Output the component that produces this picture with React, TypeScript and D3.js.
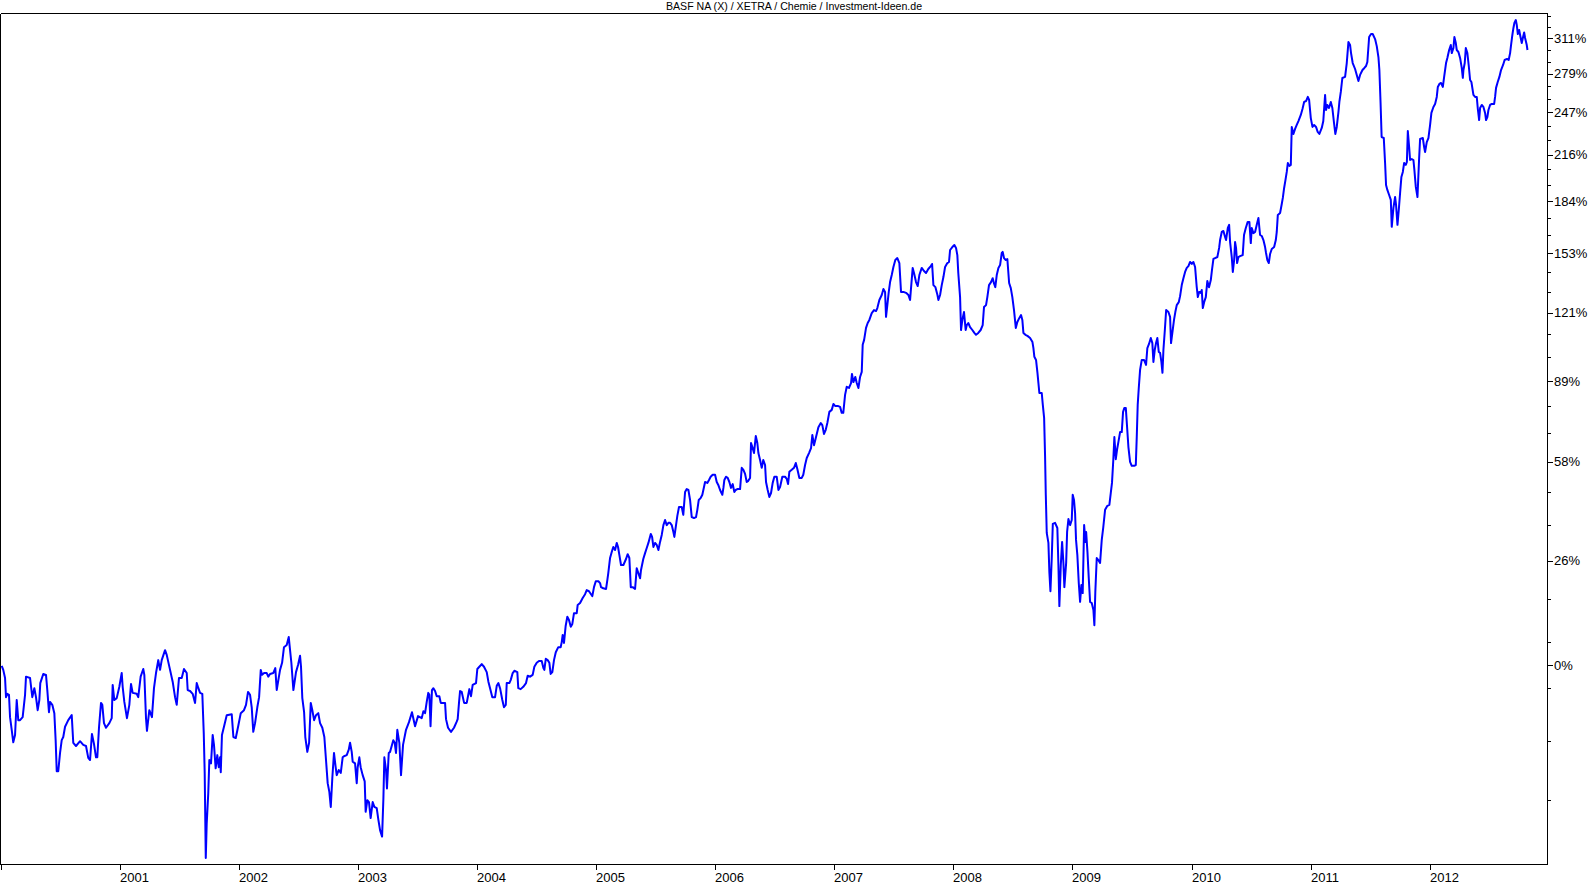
import React from 'react';
import * as d3 from 'd3';

const W = 1588;
const H = 885;
const title = 'BASF NA (X) / XETRA / Chemie / Investment-Ideen.de';

const yearTicks = [2000, 2001, 2002, 2003, 2004, 2005, 2006, 2007, 2008, 2009, 2010, 2011, 2012];
const yearLabels = ['', '2001', '2002', '2003', '2004', '2005', '2006', '2007', '2008', '2009', '2010', '2011', '2012'];

const majorTickPct = [0, 26.52, 58.15, 89.78, 121.41, 153.04, 184.67, 216.3, 247.93, 279.56, 311.19];
const majorTickLabels = ['0%', '26%', '58%', '89%', '121%', '153%', '184%', '216%', '247%', '279%', '311%'];
const minorTickPct = [-26.2, -15.7, -5.1, 5.4, 16.0, 37.1, 47.6, 68.7, 79.2, 100.3, 110.9, 131.95, 142.5, 163.6, 174.1, 195.2, 205.8, 226.8, 237.4, 258.5, 269.0, 290.1, 300.6, 321.7, 332.3];

// [decimal year, % change]
const d2000: [number, number][] = [
  [2000.006,-0.2],[2000.019,-1.1],[2000.034,-2.9],[2000.042,-7.0],[2000.053,-6.3],[2000.067,-6.5],[2000.076,-11.1],[2000.090,-13.6],[2000.103,-16.0],[2000.118,-14.6],[2000.132,-7.6],[2000.145,-11.7],[2000.160,-11.7],[2000.182,-11.1],[2000.202,-6.5],[2000.210,-2.6],[2000.244,-2.9],[2000.263,-7.0],[2000.280,-5.1],[2000.294,-7.0],[2000.308,-9.7],[2000.322,-7.6],[2000.330,-4.0],[2000.355,-2.0],[2000.378,-2.2],[2000.389,-5.5],[2000.403,-10.1],[2000.412,-8.0],[2000.431,-8.6],[2000.448,-10.3],[2000.459,-15.6],[2000.468,-21.3],[2000.481,-21.3],[2000.496,-18.0],[2000.510,-15.6],[2000.523,-15.0],[2000.538,-13.0],[2000.565,-11.7],[2000.594,-10.7],[2000.607,-16.1],[2000.630,-16.7],[2000.664,-15.8],[2000.691,-16.5],[2000.714,-16.7],[2000.733,-18.9],[2000.748,-19.3],[2000.764,-14.4],[2000.781,-16.3],[2000.798,-18.8],[2000.809,-18.8],[2000.823,-13.2],[2000.840,-8.2],[2000.851,-8.6],[2000.865,-12.3],[2000.882,-13.2],[2000.910,-12.3],[2000.930,-11.3],[2000.938,-4.4],[2000.952,-7.6],[2000.972,-7.2],[2000.994,-4.8]
];
const d2001: [number, number][] = [
  [2001.014,-1.8],[2001.022,-4.8],[2001.036,-8.0],[2001.058,-11.3],[2001.078,-8.6],[2001.092,-4.2],[2001.106,-6.1],[2001.140,-6.3],[2001.153,-7.0],[2001.173,-2.6],[2001.195,-0.9],[2001.204,-2.2],[2001.218,-11.3],[2001.226,-13.8],[2001.246,-9.7],[2001.268,-11.1],[2001.285,-5.1],[2001.302,-1.8],[2001.321,1.1],[2001.336,-1.1],[2001.350,1.1],[2001.378,3.4],[2001.392,2.3],[2001.420,-1.1],[2001.442,-3.7],[2001.462,-7.0],[2001.476,-8.6],[2001.495,-2.9],[2001.518,-2.9],[2001.537,-0.9],[2001.560,-1.8],[2001.568,-5.5],[2001.588,-5.7],[2001.610,-6.3],[2001.630,-8.2],[2001.644,-4.0],[2001.658,-5.1],[2001.672,-6.1],[2001.691,-6.3],[2001.703,-14.2],[2001.711,-21.6],[2001.720,-35.3],[2001.728,-30.0],[2001.741,-25.1],[2001.750,-19.3],[2001.764,-19.9],[2001.778,-14.6],[2001.789,-16.5],[2001.803,-20.8],[2001.817,-18.4],[2001.829,-20.6],[2001.840,-18.8],[2001.846,-21.5],[2001.856,-14.6],[2001.876,-12.7],[2001.896,-10.7],[2001.938,-10.5],[2001.952,-15.0],[2001.972,-15.2],[2001.994,-12.7]
];
const d2002: [number, number][] = [
  [2002.014,-10.3],[2002.041,-9.7],[2002.058,-8.6],[2002.075,-5.9],[2002.092,-6.5],[2002.106,-9.1],[2002.119,-14.0],[2002.134,-12.3],[2002.153,-9.1],[2002.168,-7.0],[2002.182,-1.1],[2002.193,-2.2],[2002.210,-1.8],[2002.232,-1.8],[2002.245,-2.6],[2002.260,-2.0],[2002.287,-1.8],[2002.304,-0.7],[2002.316,-5.5],[2002.330,-3.3],[2002.344,-1.1],[2002.361,0.5],[2002.377,4.1],[2002.400,4.6],[2002.417,6.5],[2002.428,3.4],[2002.439,0.5],[2002.456,-5.5],[2002.478,-1.6],[2002.495,0],[2002.512,2.1],[2002.520,-0.4],[2002.531,-7.2],[2002.546,-10.1],[2002.556,-15.0],[2002.573,-17.8],[2002.588,-16.1],[2002.602,-8.2],[2002.615,-9.7],[2002.630,-11.7],[2002.646,-10.7],[2002.665,-10.3],[2002.680,-12.3],[2002.699,-13.2],[2002.716,-15.0],[2002.730,-19.3],[2002.744,-23.4],[2002.758,-24.9],[2002.770,-27.4],[2002.783,-22.5],[2002.797,-18.0],[2002.811,-20.6],[2002.820,-22.0],[2002.837,-21.1],[2002.854,-21.6],[2002.870,-18.8],[2002.881,-18.6],[2002.904,-18.4],[2002.921,-17.4],[2002.932,-16.1],[2002.946,-17.8],[2002.954,-19.6],[2002.974,-19.9],[2002.988,-23.4],[2002.996,-20.6]
];
const d2003: [number, number][] = [
  [2003.010,-18.8],[2003.021,-20.6],[2003.038,-22.0],[2003.055,-23.1],[2003.063,-28.2],[2003.077,-26.3],[2003.091,-26.6],[2003.105,-29.2],[2003.122,-26.6],[2003.136,-27.4],[2003.156,-27.6],[2003.170,-29.5],[2003.184,-31.1],[2003.201,-32.1],[2003.212,-26.0],[2003.220,-18.8],[2003.234,-21.1],[2003.242,-24.3],[2003.257,-18.0],[2003.268,-17.8],[2003.284,-16.5],[2003.295,-15.6],[2003.307,-16.1],[2003.318,-18.0],[2003.329,-13.6],[2003.346,-16.1],[2003.360,-22.0],[2003.377,-16.5],[2003.402,-13.6],[2003.427,-12.1],[2003.452,-10.1],[2003.478,-12.9],[2003.503,-10.9],[2003.534,-11.3],[2003.548,-9.9],[2003.562,-10.3],[2003.576,-8.0],[2003.589,-6.1],[2003.598,-6.5],[2003.608,-12.9],[2003.620,-5.5],[2003.632,-5.1],[2003.646,-5.7],[2003.660,-6.8],[2003.682,-6.8],[2003.694,-8.2],[2003.716,-8.2],[2003.730,-8.2],[2003.738,-11.5],[2003.755,-13.2],[2003.780,-14.0],[2003.805,-13.2],[2003.826,-12.1],[2003.836,-11.5],[2003.847,-8.2],[2003.856,-5.7],[2003.870,-5.9],[2003.890,-8.2],[2003.912,-8.2],[2003.925,-6.5],[2003.934,-5.3],[2003.948,-6.8],[2003.962,-4.4],[2003.990,-4.0]
];
const d2004: [number, number][] = [
  [2004.001,-0.9],[2004.018,-0.4],[2004.038,0.2],[2004.057,-0.4],[2004.080,-1.6],[2004.094,-3.7],[2004.108,-5.1],[2004.127,-7.0],[2004.150,-7.0],[2004.164,-4.6],[2004.178,-4.0],[2004.192,-5.1],[2004.211,-7.6],[2004.225,-9.1],[2004.240,-8.6],[2004.248,-4.0],[2004.270,-4.0],[2004.282,-3.3],[2004.298,-1.8],[2004.312,-1.3],[2004.337,-1.6],[2004.345,-5.1],[2004.365,-5.3],[2004.387,-4.8],[2004.410,-4.0],[2004.424,-2.4],[2004.444,-2.6],[2004.466,-2.2],[2004.480,-0.4],[2004.500,0.5],[2004.519,0.9],[2004.542,0.9],[2004.556,-0.7],[2004.564,-1.1],[2004.576,1.4],[2004.592,1.1],[2004.606,0.5],[2004.617,-2.0],[2004.631,-1.6],[2004.645,1.1],[2004.660,2.9],[2004.681,4.1],[2004.701,4.1],[2004.710,5.3],[2004.718,7.0],[2004.729,5.1],[2004.743,9.2],[2004.757,11.5],[2004.771,10.7],[2004.786,9.0],[2004.799,9.7],[2004.813,12.4],[2004.836,12.4],[2004.844,14.5],[2004.864,15.0],[2004.886,16.3],[2004.906,17.3],[2004.920,18.4],[2004.939,18.1],[2004.956,17.3],[2004.967,16.8],[2004.981,19.2],[2004.996,20.8]
];
const d2005: [number, number][] = [
  [2005.018,20.8],[2005.032,20.3],[2005.040,19.2],[2005.059,18.9],[2005.082,18.7],[2005.093,21.1],[2005.101,23.0],[2005.116,27.3],[2005.130,29.0],[2005.143,30.5],[2005.158,29.6],[2005.172,31.7],[2005.183,30.5],[2005.194,28.2],[2005.208,25.3],[2005.228,25.3],[2005.250,27.0],[2005.264,28.4],[2005.278,27.3],[2005.290,19.2],[2005.306,19.2],[2005.326,18.7],[2005.340,24.4],[2005.354,23.0],[2005.368,21.6],[2005.376,23.9],[2005.395,27.0],[2005.410,28.7],[2005.424,30.2],[2005.438,31.7],[2005.458,34.4],[2005.469,33.5],[2005.480,30.5],[2005.494,31.7],[2005.508,31.1],[2005.522,29.6],[2005.536,32.0],[2005.550,34.1],[2005.564,37.1],[2005.578,38.7],[2005.592,37.1],[2005.606,37.8],[2005.620,37.8],[2005.634,37.1],[2005.648,35.0],[2005.656,33.5],[2005.670,37.1],[2005.681,40.0],[2005.695,42.8],[2005.718,42.8],[2005.731,40.3],[2005.746,47.7],[2005.760,48.7],[2005.774,48.4],[2005.788,45.1],[2005.802,39.6],[2005.821,39.3],[2005.838,39.6],[2005.849,41.9],[2005.861,45.1],[2005.878,45.8],[2005.891,46.8],[2005.905,49.4],[2005.914,51.1],[2005.933,50.8],[2005.947,51.8],[2005.961,52.9],[2005.978,53.6],[2005.998,53.6]
];
const d2006: [number, number][] = [
  [2006.012,51.1],[2006.025,50.1],[2006.040,48.4],[2006.059,46.8],[2006.068,49.1],[2006.076,51.8],[2006.090,52.9],[2006.104,52.5],[2006.118,51.1],[2006.132,49.1],[2006.146,50.4],[2006.160,47.7],[2006.171,48.4],[2006.185,48.7],[2006.208,48.7],[2006.222,56.0],[2006.236,55.3],[2006.250,53.9],[2006.264,51.1],[2006.277,51.5],[2006.292,52.5],[2006.300,65.0],[2006.311,63.5],[2006.325,61.3],[2006.340,67.6],[2006.353,65.0],[2006.362,61.3],[2006.376,58.8],[2006.390,56.0],[2006.403,58.8],[2006.418,57.0],[2006.426,51.1],[2006.440,48.4],[2006.454,46.1],[2006.468,47.4],[2006.482,50.8],[2006.496,52.9],[2006.516,52.9],[2006.530,48.4],[2006.544,49.4],[2006.563,52.9],[2006.586,52.9],[2006.600,52.2],[2006.611,50.4],[2006.622,54.6],[2006.642,55.3],[2006.661,56.0],[2006.676,57.7],[2006.689,55.6],[2006.706,52.5],[2006.726,52.5],[2006.739,53.6],[2006.754,57.0],[2006.768,59.5],[2006.787,61.3],[2006.804,63.1],[2006.815,68.0],[2006.829,64.2],[2006.846,67.2],[2006.866,71.0],[2006.886,72.6],[2006.899,71.8],[2006.913,68.4],[2006.927,69.9],[2006.941,72.6],[2006.958,77.0],[2006.978,77.8],[2006.992,80.2]
];
const d2007: [number, number][] = [
  [2007.006,79.4],[2007.028,79.4],[2007.048,79.0],[2007.062,76.6],[2007.075,76.6],[2007.090,83.9],[2007.104,87.3],[2007.123,86.8],[2007.140,88.9],[2007.148,92.8],[2007.160,89.3],[2007.176,91.5],[2007.188,88.9],[2007.202,86.8],[2007.216,91.5],[2007.230,93.7],[2007.238,105.9],[2007.250,108.2],[2007.266,113.9],[2007.280,116.3],[2007.294,117.8],[2007.314,121.2],[2007.333,122.7],[2007.350,122.2],[2007.361,123.7],[2007.378,127.8],[2007.398,130.4],[2007.412,133.5],[2007.426,132.0],[2007.434,119.3],[2007.445,125.2],[2007.457,132.0],[2007.468,137.2],[2007.482,141.0],[2007.496,145.4],[2007.512,149.3],[2007.529,150.4],[2007.546,147.6],[2007.560,132.0],[2007.580,132.0],[2007.602,131.5],[2007.622,130.4],[2007.636,127.8],[2007.644,134.0],[2007.658,144.9],[2007.669,142.1],[2007.686,137.2],[2007.700,135.1],[2007.714,141.0],[2007.734,144.9],[2007.753,143.2],[2007.770,142.1],[2007.789,144.3],[2007.810,145.9],[2007.821,147.1],[2007.832,135.6],[2007.849,134.5],[2007.866,130.4],[2007.874,127.8],[2007.888,130.4],[2007.902,135.6],[2007.916,139.9],[2007.930,145.4],[2007.949,147.6],[2007.963,148.2],[2007.972,155.0],[2007.991,156.7]
];
const d2008: [number, number][] = [
  [2008.008,157.9],[2008.022,156.2],[2008.033,152.1],[2008.041,142.1],[2008.056,129.3],[2008.064,112.9],[2008.075,117.8],[2008.089,121.7],[2008.103,112.9],[2008.112,115.3],[2008.125,116.3],[2008.140,114.3],[2008.159,112.9],[2008.176,111.5],[2008.190,110.6],[2008.209,111.5],[2008.229,112.9],[2008.246,115.3],[2008.257,124.2],[2008.274,125.2],[2008.285,129.3],[2008.299,135.6],[2008.316,137.2],[2008.330,139.3],[2008.341,136.5],[2008.352,134.5],[2008.364,141.0],[2008.378,144.9],[2008.392,146.5],[2008.406,153.3],[2008.414,153.9],[2008.425,150.4],[2008.440,149.3],[2008.453,149.9],[2008.468,136.7],[2008.482,134.0],[2008.495,129.3],[2008.509,122.7],[2008.524,113.9],[2008.537,116.8],[2008.554,118.8],[2008.568,120.2],[2008.579,117.8],[2008.588,111.5],[2008.605,110.6],[2008.622,110.1],[2008.644,109.1],[2008.664,107.2],[2008.672,104.4],[2008.680,100.4],[2008.694,99.0],[2008.706,93.3],[2008.714,88.9],[2008.722,84.7],[2008.742,84.7],[2008.751,79.8],[2008.762,74.6],[2008.770,60.0],[2008.776,46.8],[2008.784,34.7],[2008.798,31.7],[2008.806,23.3],[2008.815,18.1],[2008.826,27.3],[2008.835,37.5],[2008.854,37.8],[2008.873,36.2],[2008.882,25.3],[2008.890,14.2],[2008.902,25.3],[2008.913,32.0],[2008.924,25.9],[2008.932,19.2],[2008.947,25.9],[2008.955,35.0],[2008.966,39.0],[2008.980,37.1],[2008.994,38.7]
];
const d2009: [number, number][] = [
  [2009.002,46.8],[2009.013,45.1],[2009.022,40.9],[2009.030,32.6],[2009.041,28.2],[2009.053,20.3],[2009.064,15.3],[2009.075,19.8],[2009.086,17.6],[2009.098,37.1],[2009.109,32.0],[2009.115,35.0],[2009.126,29.0],[2009.137,21.6],[2009.148,15.3],[2009.162,15.0],[2009.176,13.2],[2009.184,9.4],[2009.192,17.9],[2009.204,27.3],[2009.217,26.7],[2009.232,25.9],[2009.246,32.6],[2009.259,36.5],[2009.274,41.9],[2009.293,43.2],[2009.310,43.5],[2009.322,47.4],[2009.332,50.8],[2009.343,58.8],[2009.352,67.2],[2009.364,59.1],[2009.374,62.4],[2009.386,65.4],[2009.400,69.1],[2009.414,69.1],[2009.425,77.0],[2009.436,78.6],[2009.448,78.6],[2009.456,73.0],[2009.470,63.5],[2009.484,58.1],[2009.498,56.7],[2009.518,56.7],[2009.532,57.0],[2009.540,67.2],[2009.548,79.8],[2009.557,86.8],[2009.568,94.6],[2009.582,99.0],[2009.601,99.0],[2009.618,96.8],[2009.629,104.4],[2009.643,106.3],[2009.658,109.1],[2009.671,106.7],[2009.680,98.1],[2009.691,103.5],[2009.702,106.7],[2009.713,109.1],[2009.725,102.6],[2009.736,102.2],[2009.747,98.1],[2009.756,93.3],[2009.764,103.5],[2009.776,112.9],[2009.787,122.7],[2009.806,121.7],[2009.820,119.3],[2009.828,106.7],[2009.839,111.5],[2009.853,117.8],[2009.864,121.7],[2009.876,125.2],[2009.893,126.7],[2009.904,129.8],[2009.918,135.6],[2009.932,139.3],[2009.946,142.7],[2009.960,144.9],[2009.974,145.9],[2009.988,148.2]
];
const d2010: [number, number][] = [
  [2010.002,147.1],[2010.016,148.2],[2010.030,145.4],[2010.043,135.1],[2010.053,129.3],[2010.064,132.0],[2010.078,131.5],[2010.086,133.0],[2010.095,123.7],[2010.106,126.7],[2010.120,129.3],[2010.133,137.8],[2010.147,134.5],[2010.162,138.3],[2010.172,143.8],[2010.184,149.9],[2010.198,150.4],[2010.217,151.0],[2010.232,156.2],[2010.240,160.8],[2010.254,165.6],[2010.268,166.2],[2010.282,162.6],[2010.290,160.8],[2010.305,168.0],[2010.316,169.9],[2010.324,159.6],[2010.338,151.0],[2010.347,142.7],[2010.358,149.3],[2010.366,159.6],[2010.374,156.2],[2010.383,147.6],[2010.394,151.0],[2010.408,151.5],[2010.430,152.1],[2010.441,163.8],[2010.456,168.0],[2010.472,171.7],[2010.486,171.7],[2010.498,159.0],[2010.506,168.0],[2010.520,164.9],[2010.534,165.6],[2010.548,169.9],[2010.562,174.1],[2010.576,163.8],[2010.590,163.2],[2010.604,160.8],[2010.618,156.7],[2010.626,153.3],[2010.637,149.3],[2010.649,147.6],[2010.660,152.7],[2010.674,155.6],[2010.694,156.7],[2010.708,160.8],[2010.716,165.6],[2010.725,176.0],[2010.744,177.2],[2010.758,182.9],[2010.767,186.8],[2010.778,193.3],[2010.789,198.6],[2010.800,204.1],[2010.809,210.3],[2010.822,208.3],[2010.834,209.0],[2010.842,236.6],[2010.856,231.3],[2010.870,235.1],[2010.884,238.1],[2010.898,241.1],[2010.918,245.8],[2010.932,250.5],[2010.946,256.1],[2010.963,256.9],[2010.977,260.2],[2010.988,257.7]
];
const d2011: [number, number][] = [
  [2011.002,243.4],[2011.016,236.6],[2011.030,238.1],[2011.046,236.6],[2011.060,232.8],[2011.074,231.3],[2011.094,235.8],[2011.107,241.1],[2011.122,261.8],[2011.130,249.7],[2011.141,253.7],[2011.155,251.3],[2011.170,256.1],[2011.183,251.3],[2011.197,239.6],[2011.208,231.3],[2011.220,236.6],[2011.234,248.1],[2011.242,256.1],[2011.254,264.3],[2011.267,275.9],[2011.290,276.8],[2011.304,288.8],[2011.318,307.6],[2011.332,304.9],[2011.340,297.6],[2011.354,288.8],[2011.374,283.6],[2011.388,278.5],[2011.402,273.3],[2011.416,278.5],[2011.436,282.7],[2011.452,284.5],[2011.466,286.2],[2011.477,289.7],[2011.492,312.3],[2011.508,315.1],[2011.522,315.1],[2011.542,310.4],[2011.556,303.9],[2011.570,294.1],[2011.578,282.7],[2011.588,255.3],[2011.597,229.0],[2011.615,228.3],[2011.626,210.3],[2011.634,195.3],[2011.645,192.0],[2011.660,188.7],[2011.674,185.5],[2011.682,168.7],[2011.696,180.4],[2011.710,187.4],[2011.718,182.3],[2011.730,169.9],[2011.741,179.1],[2011.752,190.0],[2011.763,200.7],[2011.775,204.1],[2011.786,210.3],[2011.800,209.0],[2011.809,211.0],[2011.817,233.5],[2011.828,221.7],[2011.836,212.4],[2011.850,213.1],[2011.864,212.4],[2011.872,205.5],[2011.884,194.0],[2011.898,187.4],[2011.912,213.8],[2011.920,227.6],[2011.943,228.3],[2011.954,221.7],[2011.962,218.1],[2011.976,225.3],[2011.990,228.3]
];
const d2012: [number, number][] = [
  [2012.004,238.1],[2012.015,247.4],[2012.032,252.1],[2012.046,254.5],[2012.060,260.2],[2012.069,268.4],[2012.082,270.9],[2012.096,271.7],[2012.111,268.4],[2012.122,276.8],[2012.138,288.8],[2012.149,293.3],[2012.164,300.4],[2012.178,304.9],[2012.186,297.6],[2012.200,302.2],[2012.208,312.3],[2012.220,306.7],[2012.228,300.4],[2012.242,298.6],[2012.256,293.3],[2012.270,284.5],[2012.279,276.0],[2012.284,282.7],[2012.295,288.8],[2012.304,302.2],[2012.317,297.6],[2012.329,286.2],[2012.340,274.2],[2012.351,272.5],[2012.368,261.8],[2012.382,260.2],[2012.396,260.2],[2012.405,250.5],[2012.416,241.9],[2012.424,251.3],[2012.438,253.7],[2012.452,252.1],[2012.466,247.4],[2012.474,241.9],[2012.485,244.2],[2012.494,249.7],[2012.508,253.7],[2012.522,254.5],[2012.542,254.5],[2012.550,260.2],[2012.558,267.6],[2012.572,272.5],[2012.586,276.8],[2012.600,282.7],[2012.617,287.1],[2012.630,291.5],[2012.650,292.4],[2012.664,291.5],[2012.676,297.6],[2012.684,304.9],[2012.695,314.2],[2012.704,320.8],[2012.712,325.6],[2012.724,328.4],[2012.732,323.7],[2012.741,315.1],[2012.752,318.9],[2012.760,314.2],[2012.774,306.7],[2012.783,311.4],[2012.794,316.6],[2012.802,311.4],[2012.816,304.9],[2012.822,300.4]
];

const series = [d2000, d2001, d2002, d2003, d2004, d2005, d2006, d2007, d2008, d2009, d2010, d2011, d2012].flat();

const plot = { left: 0.5, right: 1547.5, top: 13.5, bottom: 864.5 };

export default function App() {
  const x = d3.scaleLinear().domain([2000, 2012.986]).range([1, 1547]);
  const y = d3.scaleLog().domain([0.6383, 4.3525]).range([864, 13]);
  const line = d3.line<[number, number]>()
    .x(d => x(d[0]))
    .y(d => y(1 + d[1] / 100));
  const font = '"Liberation Sans", Arial, sans-serif';
  return (
    <svg width={W} height={H} style={{ position: 'absolute', left: 0, top: 0, background: '#fff' }}>
      <rect x={0} y={0} width={W} height={H} fill="#fff" />
      <text x={794} y={10} textAnchor="middle" fontFamily={font} fontSize={10.6} fill="#000">{title}</text>
      <g shapeRendering="crispEdges" stroke="#000" strokeWidth={1}>
        <line x1={plot.left} x2={plot.right} y1={plot.top} y2={plot.top} />
        <line x1={plot.left} x2={plot.right} y1={plot.bottom} y2={plot.bottom} />
        <line x1={plot.left} x2={plot.left} y1={plot.top} y2={plot.bottom} />
        <line x1={plot.right} x2={plot.right} y1={plot.top} y2={plot.bottom} />
        {yearTicks.map(t => (
          <line key={t} x1={Math.round(x(t)) + 0.5} x2={Math.round(x(t)) + 0.5} y1={plot.bottom} y2={plot.bottom + 5} />
        ))}
        {majorTickPct.map(p => {
          const yy = Math.round(y(1 + p / 100)) + 0.5;
          return <line key={p} x1={plot.right} x2={plot.right + 5} y1={yy} y2={yy} />;
        })}
        {minorTickPct.map(p => {
          const yy = Math.round(y(1 + p / 100)) + 0.5;
          return <line key={p} x1={plot.right} x2={plot.right + 3} y1={yy} y2={yy} />;
        })}
      </g>
      {yearTicks.map((t, i) => (
        <text key={t} x={Math.round(x(t))} y={882} fontFamily={font} fontSize={13} fill="#000">{yearLabels[i]}</text>
      ))}
      {majorTickPct.map((p, i) => (
        <text key={p} x={1554} y={y(1 + p / 100)} dy="0.35em" fontFamily={font} fontSize={13} fill="#000">{majorTickLabels[i]}</text>
      ))}
      <path d={line(series) || ''} fill="none" stroke="#0000ff" strokeWidth={2} strokeLinejoin="round" />
    </svg>
  );
}
